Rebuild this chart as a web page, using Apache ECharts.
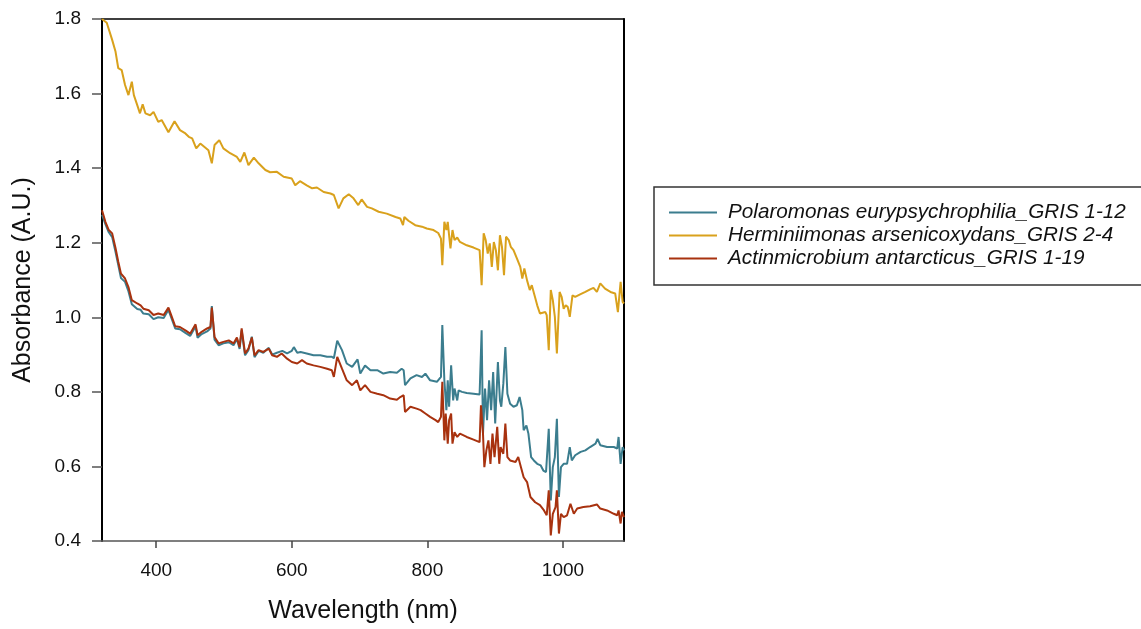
<!DOCTYPE html>
<html>
<head>
<meta charset="utf-8">
<title>Absorbance spectra</title>
<script src="https://cdn.jsdelivr.net/npm/echarts@6/dist/echarts.min.js"></script>
<style>
  html, body { margin: 0; padding: 0; background: #fff; }
  #chart { width: 1141px; height: 629px; }
</style>
</head>
<body>
<div id="chart"></div>
<script>
// Series names
const seriesNames = [
  'Polaromonas eurypsychrophilia_GRIS 1-12',
  'Herminiimonas arsenicoxydans_GRIS 2-4',
  'Actinmicrobium antarcticus_GRIS 1-19'
];

// Axis ticks
const xTicks = [400, 600, 800, 1000];

// Polaromonas eurypsychrophilia: wavelength (nm) and absorbance (A.U.)
const polaroWl = [320, 322, 325, 330, 335, 340, 344, 348, 354, 359, 364, 372, 377, 381, 389, 396, 403, 411, 418, 423,
  428, 435, 443, 450, 458, 461, 467, 475, 480, 482, 486, 492, 499, 507, 514, 519, 523, 526, 531, 536,
  541, 545, 551, 558, 566, 571, 578, 586, 593, 600, 603, 608, 613, 622, 632, 642, 652, 659, 662, 667,
  674, 681, 689, 697, 701, 708, 716, 726, 735, 745, 755, 762, 765, 767, 775, 784, 792, 797, 804, 814,
  820, 822, 825, 828, 830, 832, 835, 838, 840, 844, 846, 851, 858, 868, 877, 880, 882, 885, 888, 891,
  894, 897, 900, 904, 907, 909, 912, 915, 918, 922, 927, 932, 936, 940, 942, 946, 949, 953, 957, 962,
  967, 971, 975, 979, 982, 985, 988, 991, 994, 997, 1001, 1006, 1010, 1013, 1018, 1026, 1033, 1040, 1048, 1051,
  1055, 1065, 1075, 1080, 1082, 1085, 1088, 1090];
const polaroAbs = [1.275, 1.270, 1.250, 1.228, 1.215, 1.175, 1.140, 1.105, 1.095, 1.070, 1.035, 1.022, 1.020, 1.010, 1.008, 0.995, 1.000, 0.998, 1.020, 0.995,
  0.970, 0.968, 0.958, 0.950, 0.975, 0.945, 0.955, 0.962, 0.970, 1.030, 0.940, 0.925, 0.930, 0.933, 0.925, 0.942, 0.915, 0.965, 0.898, 0.912,
  0.948, 0.893, 0.910, 0.905, 0.918, 0.900, 0.905, 0.910, 0.903, 0.910, 0.920, 0.905, 0.907, 0.903, 0.898, 0.898, 0.894, 0.894, 0.890, 0.937,
  0.912, 0.876, 0.867, 0.887, 0.849, 0.871, 0.858, 0.858, 0.849, 0.853, 0.851, 0.862, 0.858, 0.818, 0.836, 0.845, 0.840, 0.849, 0.831, 0.827,
  0.840, 0.979, 0.831, 0.751, 0.831, 0.760, 0.871, 0.777, 0.809, 0.777, 0.804, 0.800, 0.797, 0.795, 0.793, 0.965, 0.688, 0.809, 0.724, 0.831,
  0.751, 0.853, 0.715, 0.880, 0.777, 0.760, 0.822, 0.920, 0.795, 0.768, 0.760, 0.764, 0.786, 0.751, 0.697, 0.710, 0.688, 0.625, 0.616, 0.607,
  0.603, 0.589, 0.585, 0.701, 0.509, 0.598, 0.625, 0.728, 0.518, 0.598, 0.607, 0.607, 0.652, 0.616, 0.630, 0.639, 0.643, 0.652, 0.661, 0.674,
  0.657, 0.652, 0.652, 0.648, 0.679, 0.607, 0.652, 0.643];

// Herminiimonas arsenicoxydans
const hermiWl = [320, 322, 327, 335, 340, 344, 349, 354, 359, 364, 367, 372, 376, 380, 384, 391, 396, 403, 408, 418,
  427, 435, 443, 448, 453, 459, 465, 477, 482, 486, 493, 499, 509, 519, 524, 530, 536, 544, 551, 561,
  568, 578, 588, 600, 605, 612, 622, 630, 637, 647, 657, 662, 669, 676, 684, 691, 698, 703, 711, 718,
  728, 740, 753, 760, 764, 766, 772, 782, 792, 799, 809, 816, 820, 822, 825, 828, 830, 832, 834, 837,
  840, 844, 848, 858, 868, 877, 880, 883, 886, 889, 892, 895, 898, 901, 904, 907, 910, 913, 916, 920,
  923, 927, 932, 937, 940, 943, 947, 951, 954, 958, 962, 966, 974, 976, 979, 982, 985, 988, 991, 995,
  998, 1001, 1004, 1007, 1010, 1014, 1018, 1026, 1033, 1040, 1045, 1050, 1055, 1062, 1070, 1077, 1081, 1085, 1088, 1090];
const hermiAbs = [1.800, 1.798, 1.790, 1.744, 1.712, 1.668, 1.663, 1.623, 1.596, 1.632, 1.596, 1.569, 1.547, 1.571, 1.547, 1.542, 1.551, 1.524, 1.529, 1.496,
  1.526, 1.502, 1.493, 1.484, 1.480, 1.453, 1.466, 1.448, 1.413, 1.462, 1.475, 1.453, 1.440, 1.430, 1.417, 1.442, 1.408, 1.428, 1.413, 1.395,
  1.389, 1.390, 1.377, 1.372, 1.354, 1.365, 1.354, 1.346, 1.348, 1.336, 1.332, 1.328, 1.292, 1.319, 1.330, 1.319, 1.301, 1.316, 1.296, 1.292,
  1.283, 1.278, 1.269, 1.265, 1.247, 1.269, 1.259, 1.247, 1.243, 1.238, 1.234, 1.226, 1.211, 1.140, 1.256, 1.234, 1.256, 1.220, 1.185, 1.234,
  1.207, 1.214, 1.202, 1.193, 1.187, 1.180, 1.086, 1.225, 1.207, 1.171, 1.198, 1.135, 1.202, 1.180, 1.126, 1.220, 1.189, 1.113, 1.216, 1.207,
  1.189, 1.180, 1.158, 1.135, 1.104, 1.131, 1.099, 1.073, 1.086, 1.059, 1.032, 1.010, 1.014, 1.006, 0.912, 1.073, 1.046, 1.001, 0.903, 1.068,
  1.055, 1.023, 1.032, 1.028, 1.001, 1.059, 1.055, 1.062, 1.068, 1.075, 1.079, 1.068, 1.091, 1.077, 1.068, 1.064, 1.014, 1.095, 1.041, 1.037];

// Actinmicrobium antarcticus
const actinWl = [320, 322, 325, 330, 335, 340, 344, 348, 354, 359, 364, 372, 377, 381, 389, 396, 403, 411, 418, 423,
  428, 435, 443, 450, 458, 461, 467, 475, 480, 482, 486, 492, 499, 507, 514, 519, 523, 526, 531, 536,
  541, 545, 551, 558, 566, 571, 578, 585, 593, 600, 608, 615, 622, 632, 642, 652, 659, 662, 667, 674,
  681, 689, 696, 701, 708, 716, 726, 735, 745, 755, 760, 765, 767, 775, 784, 790, 797, 804, 812, 816,
  820, 822, 825, 827, 830, 832, 835, 837, 840, 844, 848, 858, 868, 877, 879, 882, 884, 887, 890, 893,
  896, 899, 903, 906, 908, 912, 915, 918, 922, 930, 934, 938, 942, 947, 952, 959, 966, 972, 976, 979,
  982, 985, 989, 991, 994, 997, 1001, 1006, 1011, 1016, 1021, 1030, 1040, 1050, 1055, 1065, 1075, 1080, 1082, 1085,
  1087, 1090];
const actinAbs = [1.287, 1.283, 1.256, 1.234, 1.225, 1.185, 1.149, 1.117, 1.104, 1.081, 1.046, 1.037, 1.032, 1.023, 1.019, 1.006, 1.010, 1.006, 1.026, 1.001,
  0.976, 0.974, 0.965, 0.956, 0.981, 0.952, 0.961, 0.970, 0.974, 1.026, 0.947, 0.930, 0.934, 0.938, 0.930, 0.946, 0.920, 0.970, 0.903, 0.916,
  0.946, 0.898, 0.912, 0.907, 0.916, 0.898, 0.894, 0.903, 0.889, 0.880, 0.876, 0.885, 0.876, 0.871, 0.867, 0.862, 0.858, 0.840, 0.894, 0.862,
  0.831, 0.818, 0.831, 0.804, 0.818, 0.800, 0.795, 0.791, 0.782, 0.779, 0.786, 0.791, 0.746, 0.760, 0.755, 0.751, 0.742, 0.733, 0.724, 0.719,
  0.733, 0.827, 0.670, 0.742, 0.661, 0.724, 0.742, 0.661, 0.692, 0.679, 0.688, 0.679, 0.672, 0.665, 0.764, 0.688, 0.598, 0.643, 0.670, 0.607,
  0.688, 0.625, 0.706, 0.607, 0.652, 0.634, 0.715, 0.625, 0.616, 0.612, 0.625, 0.598, 0.571, 0.558, 0.518, 0.504, 0.496, 0.482, 0.469, 0.536,
  0.415, 0.473, 0.491, 0.536, 0.420, 0.473, 0.464, 0.469, 0.500, 0.473, 0.487, 0.491, 0.493, 0.498, 0.487, 0.482, 0.473, 0.469, 0.482, 0.447,
  0.478, 0.464];

const colors = ['#3b7d8e', '#d9a11c', '#a8320f'];

function pairs(xs, ys) {
  return xs.map((x, i) => [x, ys[i]]);
}

const chart = echarts.init(document.getElementById('chart'), null, { renderer: 'canvas' });
const font = '"Liberation Sans", Arial, sans-serif';

chart.setOption({
  animation: false,
  backgroundColor: '#ffffff',
  color: colors,
  grid: { left: 102, right: 517, top: 19, bottom: 88, containLabel: false },
  legend: {
    orient: 'vertical',
    left: 654,
    top: 187,
    padding: [14, 120, 15, 15],
    icon: 'rect',
    itemWidth: 48,
    itemHeight: 2,
    itemGap: 0,
    borderColor: '#333',
    borderWidth: 1.5,
    backgroundColor: '#fff',
    selectedMode: false,
    textStyle: {
      fontFamily: font,
      fontStyle: 'italic',
      fontSize: 20.7,
      lineHeight: 23,
      color: '#111',
      padding: [0, 0, 0, 6]
    },
    data: seriesNames
  },
  xAxis: [{
    type: 'value',
    min: 320,
    max: 1090,
    name: 'Wavelength (nm)',
    nameLocation: 'middle',
    nameGap: 58,
    nameTextStyle: { fontFamily: font, fontSize: 25, color: '#111' },
    axisLine: { show: true, lineStyle: { color: '#555', width: 1.5 } },
    axisTick: { show: true, length: 7, customValues: xTicks, lineStyle: { color: '#444', width: 1.5 } },
    axisLabel: { customValues: xTicks, margin: 20, fontFamily: font, fontSize: 19, color: '#111', formatter: v => String(v) },
    splitLine: { show: false }
  }, {
    type: 'value',
    position: 'top',
    min: 320,
    max: 1090,
    axisLine: { show: true, onZero: false, lineStyle: { color: '#000', width: 1.5 } },
    axisTick: { show: false },
    axisLabel: { show: false },
    splitLine: { show: false }
  }],
  yAxis: [{
    type: 'value',
    min: 0.4,
    max: 1.8,
    interval: 0.2,
    name: 'Absorbance (A.U.)',
    nameLocation: 'middle',
    nameGap: 66,
    nameTextStyle: { fontFamily: font, fontSize: 25, color: '#111' },
    axisLine: { show: true, onZero: false, lineStyle: { color: '#000', width: 2 } },
    axisTick: { show: true, length: 10, lineStyle: { color: '#555', width: 1.5 } },
    axisLabel: { margin: 21, fontFamily: font, fontSize: 19, color: '#111', formatter: v => v.toFixed(1) },
    splitLine: { show: false }
  }, {
    type: 'value',
    position: 'right',
    min: 0.4,
    max: 1.8,
    interval: 0.2,
    axisLine: { show: true, onZero: false, lineStyle: { color: '#000', width: 2 } },
    axisTick: { show: false },
    axisLabel: { show: false },
    splitLine: { show: false }
  }],
  series: [
    { name: seriesNames[0], type: 'line', data: pairs(polaroWl, polaroAbs), showSymbol: false, symbol: 'none',
      lineStyle: { width: 2, color: colors[0] }, itemStyle: { color: colors[0] } },
    { name: seriesNames[1], type: 'line', data: pairs(hermiWl, hermiAbs), showSymbol: false, symbol: 'none',
      lineStyle: { width: 2, color: colors[1] }, itemStyle: { color: colors[1] } },
    { name: seriesNames[2], type: 'line', data: pairs(actinWl, actinAbs), showSymbol: false, symbol: 'none',
      lineStyle: { width: 2, color: colors[2] }, itemStyle: { color: colors[2] } }
  ]
});
</script>
</body>
</html>
